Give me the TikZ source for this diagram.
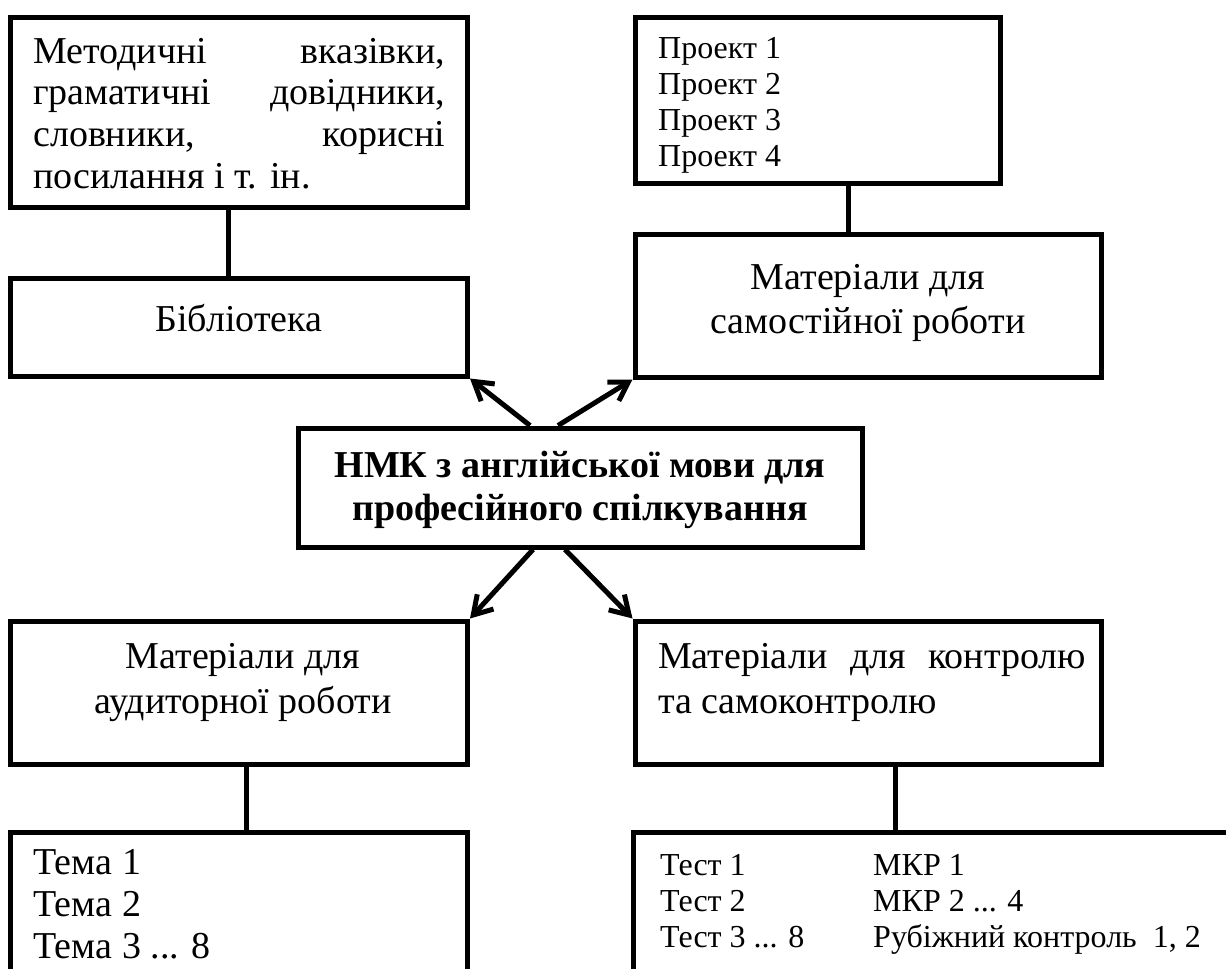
\documentclass[tikz,border=0pt]{standalone}
\usepackage{fontspec}
\setmainfont{Liberation Serif}
\usetikzlibrary{arrows.meta}
\newcommand{\fsreg}{\fontsize{38}{43}\selectfont}
\newcommand{\fssmall}{\fontsize{32}{36}\selectfont}
\newcommand{\fsbold}{\fontsize{38}{43}\selectfont\bfseries}
\begin{document}
\begin{tikzpicture}[x=1pt,y=-1pt,
  box/.style={draw, line width=5pt, rectangle, inner sep=0pt},
  conn/.style={line width=5pt},
  arr/.style={line width=5pt, -{Straight Barb[length=18pt,width=22pt]}},
  tl/.style={inner sep=0pt, anchor=base west, font=\fsreg},
  tc/.style={inner sep=0pt, anchor=base, font=\fsreg},
  ts/.style={inner sep=0pt, anchor=base west, font=\fssmall},
  tb/.style={inner sep=0pt, anchor=base, font=\fsbold}]
\clip (0,0) rectangle (1226,969);
\fill[white] (0,0) rectangle (1226,969);
% boxes
\node[box, minimum width=457pt, minimum height=190pt] (A) at (239,112.5) {};
\node[box, minimum width=457pt, minimum height=98pt] (B) at (239,327) {};
\node[box, minimum width=365pt, minimum height=166pt] (C) at (818,100) {};
\node[box, minimum width=466pt, minimum height=143pt] (D) at (868,305.5) {};
\node[box, minimum width=564pt, minimum height=119pt] (E) at (580,487.5) {};
\node[box, minimum width=457pt, minimum height=143pt] (F) at (239,692.5) {};
\node[box, minimum width=466pt, minimum height=143pt] (H) at (868,692.5) {};
\node[box, minimum width=457pt, minimum height=178pt] (G) at (239,921) {};
\node[box, minimum width=607pt, minimum height=178pt] (I) at (936.5,921) {};
% texts
\node[tl] (a1) at (33,63) {\makebox[412pt][s]{Методичні\hfill вказівки,}};
\node[tl] (a2) at (33,104.5) {\makebox[412pt][s]{граматичні\hfill довідники,}};
\node[tl] (a3) at (33,146) {\makebox[412pt][s]{словники,\hfill корисні}};
\node[tl] (a4) at (33,188) {посилання і т. ін.};
\node[tc] (b1) at (239,331) {Бібліотека};
\node[ts] (c1) at (658,58) {Проект 1};
\node[ts] (c2) at (658,94) {Проект 2};
\node[ts] (c3) at (658,130) {Проект 3};
\node[ts] (c4) at (658,166) {Проект 4};
\node[tc] (d1) at (868,289) {Матеріали для};
\node[tc] (d2) at (868,333) {самостійної роботи};
\node[tb] (e1) at (580,477) {НМК з англійської мови для};
\node[tb] (e2) at (580,520) {професійного спілкування};
\node[tc] (f1) at (243,668) {Матеріали для};
\node[tc] (f2) at (243,713) {аудиторної роботи};
\node[tl] (h1) at (658,668) {\makebox[428pt][s]{Матеріали\hfill для\hfill контролю}};
\node[tl] (h2) at (658,713) {та самоконтролю};
\node[tl] (g1) at (33,874) {Тема 1};
\node[tl] (g2) at (33,916) {Тема 2};
\node[tl] (g3) at (33,958) {Тема 3 ... 8};
\node[ts] (i1) at (660,875) {Тест 1};
\node[ts] (i2) at (660,911) {Тест 2};
\node[ts] (i3) at (660,947) {Тест 3 ... 8};
\node[ts] (j1) at (873,875) {МКР 1};
\node[ts] (j2) at (873,911) {МКР 2 ... 4};
\node[ts] (j3) at (873,947) {Рубіжний контроль\ \ 1, 2};
% connector x positions
\coordinate (xab) at (228,0);
\coordinate (xcd) at (848,0);
\coordinate (xfg) at (246,0);
\coordinate (xhi) at (895,0);
\draw[conn] (A.south -| xab) -- (B.north -| xab);
\draw[conn] (C.south -| xcd) -- (D.north -| xcd);
\draw[conn] (F.south -| xfg) -- (G.north -| xfg);
\draw[conn] (H.south -| xhi) -- (I.north -| xhi);
% arrows
\coordinate (u1) at (530,0);
\coordinate (u2) at (558,0);
\coordinate (l1) at (533,0);
\coordinate (l2) at (565,0);
\draw[arr] (E.north -| u1) -- (B.south east);
\draw[arr] (E.north -| u2) -- (D.south west);
\draw[arr] (E.south -| l1) -- (F.north east);
\draw[arr] (E.south -| l2) -- (H.north west);
\end{tikzpicture}
\end{document}
